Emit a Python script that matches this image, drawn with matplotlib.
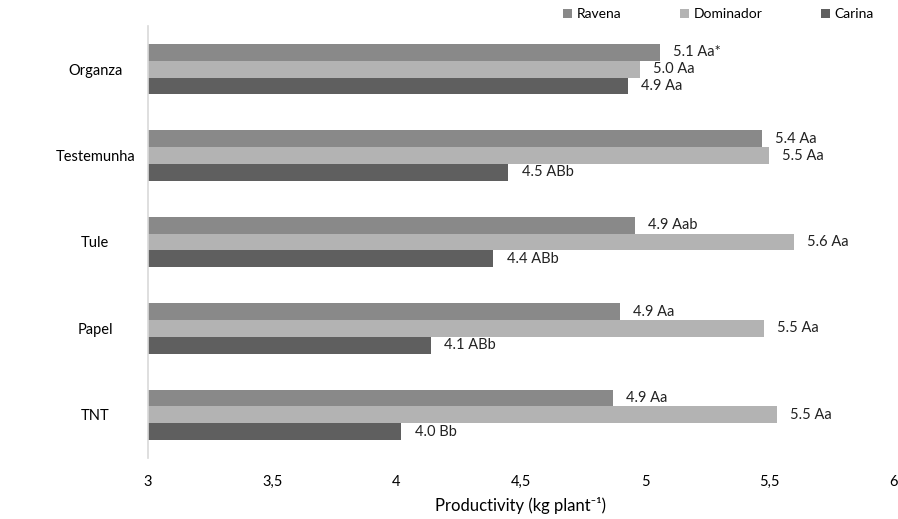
import numpy as np
import matplotlib
matplotlib.use('Agg')
from matplotlib import pyplot as plt

plt.rcParams['font.family'] = ['Lato', 'DejaVu Sans']

# categories from bottom to top
categories = ['TNT', 'Papel', 'Tule', 'Testemunha', 'Organza']
ravena = [4.87, 4.90, 4.96, 5.47, 5.06]
dominador = [5.53, 5.48, 5.60, 5.50, 4.98]
carina = [4.02, 4.14, 4.39, 4.45, 4.93]
ravena_lbl = ['4.9 Aa', '4.9 Aa', '4.9 Aab', '5.4 Aa', '5.1 Aa*']
dominador_lbl = ['5.5 Aa', '5.5 Aa', '5.6 Aa', '5.5 Aa', '5.0 Aa']
carina_lbl = ['4.0 Bb', '4.1 ABb', '4.4 ABb', '4.5 ABb', '4.9 Aa']
xticks = [3, 3.5, 4, 4.5, 5, 5.5, 6]
xtick_labels = ['3', '3,5', '4', '4,5', '5', '5,5', '6']

fig = plt.figure(figsize=(8.98, 5.19), dpi=100)
ax = fig.add_axes([0.1648, 0.1175, 0.8302, 0.8325])

y = np.arange(len(categories))
h = 0.195
series = [
    ('Ravena', ravena, ravena_lbl, '#898989', h),
    ('Dominador', dominador, dominador_lbl, '#b3b3b3', 0),
    ('Carina', carina, carina_lbl, '#5f5f5f', -h),
]
for name, vals, lbls, col, off in series:
    bars = ax.barh(y + off, np.array(vals) - 3, height=h, left=3, color=col, label=name)
    for b, v, t in zip(bars, vals, lbls):
        ax.annotate(t, (v, b.get_y() + h / 2), xytext=(9.5, 0), textcoords='offset points',
                    va='center', ha='left', fontsize=10.5, color='#222222')

ax.set_xlim(3, 6)
ax.set_ylim(-0.5, 4.5)
ax.set_xticks(xticks)
ax.set_xticklabels(xtick_labels, fontsize=10.5)
ax.set_yticks(y)
ax.set_yticklabels(categories, fontsize=10.5, ha='center')
ax.tick_params(axis='y', length=0, pad=38)
ax.tick_params(axis='x', length=0, pad=12)
for s in ['top', 'right', 'bottom']:
    ax.spines[s].set_visible(False)
ax.spines['left'].set_color('#d9d9d9')
ax.spines['left'].set_linewidth(1.2)
ax.set_xlabel('Productivity (kg plant⁻¹)', fontsize=12, labelpad=6)

ax.legend(loc='center', bbox_to_anchor=(0.765, 1.027), ncol=3, frameon=False,
          fontsize=10, handlelength=0.7, handleheight=0.7, columnspacing=4.2, handletextpad=0.3)

fig.savefig('out.png', dpi=100)
